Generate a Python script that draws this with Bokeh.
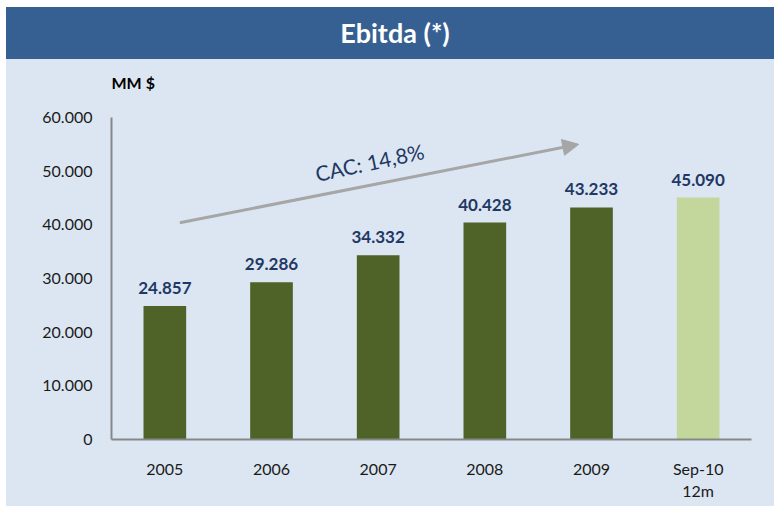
from bokeh.plotting import figure
from bokeh.layouts import column, row
from bokeh.models import (ColumnDataSource, Range1d, FixedTicker, Label, Arrow,
                          NormalHead, Spacer, Div)
from bokeh.core.properties import value
from bokeh.embed import file_html
from bokeh.resources import INLINE

# ---- data ----
categories = ["2005", "2006", "2007", "2008", "2009", "Sep-10\n12m"]
ebitda = [24857, 29286, 34332, 40428, 43233, 45090]
value_labels = ["24.857", "29.286", "34.332", "40.428", "43.233", "45.090"]
bar_colors = ["#4F6228", "#4F6228", "#4F6228", "#4F6228", "#4F6228", "#C3D69B"]
y_ticks = [0, 10000, 20000, 30000, 40000, 50000, 60000]
y_tick_labels = ["0", "10.000", "20.000", "30.000", "40.000", "50.000", "60.000"]
title_text = "Ebitda (*)"
unit_text = "MM $"
cac_text = "CAC: 14,8%"

FONT = "Lato"
BG = "#DCE6F2"
HEADER = "#366092"
NAVY = "#1F3864"

W = 768
Y_MAX_AXIS = 60000
Y_TOP = Y_MAX_AXIS * 376 / 322   # room above the axis for the unit label

# ---- header ----
hdr = Div(text=title_text, width=W, height=52, margin=0,
          styles={"background-color": HEADER, "color": "white",
                  "font-family": FONT, "font-weight": "bold",
                  "font-size": "27px", "text-align": "center",
                  "line-height": "52px", "text-indent": "10px"})

# ---- main chart ----
xs = [i + 0.5 for i in range(len(categories))]
src = ColumnDataSource(dict(x=xs, y=ebitda, lab=value_labels, color=bar_colors))

p = figure(width=W, height=447, x_range=Range1d(0, len(categories)),
           y_range=Range1d(0, Y_TOP), output_backend="svg",
           toolbar_location=None,
           min_border_left=105, min_border_right=23,
           min_border_top=4, min_border_bottom=67)
p.background_fill_color = None
p.border_fill_color = None
p.outline_line_color = None
p.grid.visible = False

p.vbar(x="x", top="y", width=0.4, source=src, fill_color="color",
       line_color=None)
p.text(x="x", y="y", text="lab", source=src, text_align="center",
       text_baseline="middle", y_offset=-18, text_color=NAVY,
       text_font=value(FONT), text_font_style="bold", text_font_size="17px")

# axes
p.yaxis.ticker = FixedTicker(ticks=y_ticks)
p.yaxis.major_label_overrides = dict(zip(y_ticks, y_tick_labels))
p.yaxis.bounds = (0, Y_MAX_AXIS)
p.xaxis.ticker = FixedTicker(ticks=xs)
p.xaxis.major_label_overrides = dict(zip(xs, categories))
for ax in (p.xaxis, p.yaxis):
    ax.axis_line_color = "#878787"
    ax.axis_line_width = 2
    ax.major_tick_line_color = None
    ax.minor_tick_line_color = None
    ax.major_label_text_font = FONT
    ax.major_label_text_font_size = "16px"
    ax.major_label_text_color = "#1A1A1A"
p.yaxis.major_label_standoff = 13
p.xaxis.major_label_standoff = 13

# unit label
p.add_layout(Label(x=0, y=66500, text=unit_text, text_align="left",
                   text_baseline="middle", text_color="black",
                   text_font=FONT, text_font_style="bold",
                   text_font_size="16px"))

# growth arrow and CAC label
p.add_layout(Arrow(x_start=0.64, y_start=40400, x_end=4.38, y_end=55000,
                   line_color="#A6A6A6", line_width=3,
                   end=NormalHead(size=16, fill_color="#A6A6A6",
                                  line_color="#A6A6A6")))
p.add_layout(Label(x=2.42, y=51700, text=cac_text, text_align="center",
                   text_baseline="middle", angle=0.21, text_color=NAVY,
                   text_font=FONT, text_font_size="21px"))

panel = column(hdr, p, spacing=0, styles={"background-color": BG})
layout = column(Spacer(width=774, height=7),
                row(Spacer(width=6, height=499), panel, spacing=0),
                spacing=0)
open("out.html", "w").write(file_html(layout, INLINE))
